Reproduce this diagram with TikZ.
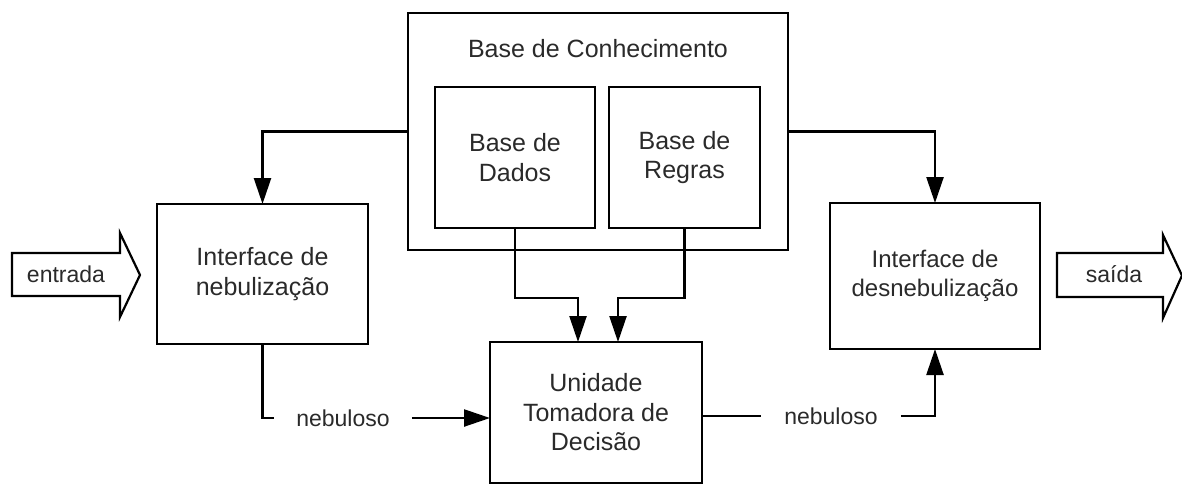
\documentclass[tikz,border=0pt]{standalone}
\usepackage{fontspec}
\setmainfont{Liberation Sans}
\usetikzlibrary{arrows.meta}
\definecolor{txt}{HTML}{2A2A2A}
\begin{document}
\begin{tikzpicture}[x=1pt,y=-1pt,
  box/.style={draw=black,line width=2.4pt,inner sep=0pt,outer sep=0pt,align=center,text=txt,
    font=\fontsize{25}{29.5}\selectfont},
  lbl/.style={text=txt,inner ysep=0pt,font=\fontsize{23}{27}\selectfont},
  wire/.style={draw=black,line width=2.4pt},
  arr/.style={wire,-{Triangle[length=26pt,width=17pt]}},
  fatarrow/.style={draw=black,line width=2.2pt,fill=white,line join=miter}]
\useasboundingbox (0,0) rectangle (1182,485);

% knowledge base
\node[box,minimum width=380pt,minimum height=237pt] (bc) at (598,131.5) {};
\node[text=txt,font=\fontsize{25}{29.5}\selectfont] (bctitle) at (598,49) {Base de Conhecimento};
\node[box,minimum width=160pt,minimum height=141pt] (dados) at (515,157.5) {Base de\\Dados};
\node[box,minimum width=151pt,minimum height=141pt] (regras) at (684.5,157.5) {Base de\\Regras};

% interfaces and decision unit
\node[box,minimum width=211pt,minimum height=140pt] (neb) at (262.5,274) {Interface de\\nebulização};
\node[box,minimum width=212pt,minimum height=141pt] (unid) at (596,412.5) {Unidade\\Tomadora de\\Decisão};
\node[box,minimum width=210pt,minimum height=146pt,font=\fontsize{24}{28.5}\selectfont] (desneb) at (935,276) {Interface de\\desnebulização};

% input / output block arrows
\draw[fatarrow] (12,253) -- (120,253) -- (120,233) -- (140,275) -- (120,317) -- (120,296) -- (12,296) -- cycle;
\node[lbl] (entrada) at (66,274) {entrada};
\draw[fatarrow] (1057,253) -- (1163,253) -- (1163,235) -- (1182,275.5) -- (1163,318) -- (1163,297) -- (1057,297) -- cycle;
\node[lbl] (saida) at (1114,274) {saída};

% nebuloso labels
\node[lbl,inner xsep=22pt] (nebL) at (343,418) {nebuloso};
\node[lbl,inner xsep=23pt] (nebR) at (831,416) {nebuloso};

% connectors
\draw[arr] (bc.west) -| (neb.north);
\draw[arr] (bc.east) -| (desneb.north);
\draw[arr] (dados.south) -- ++(0,70) -| ([xshift=-18pt]unid.north);
\draw[arr] (regras.south) -- ++(0,70) -| ([xshift=22pt]unid.north);
\draw[wire] (neb.south) |- (nebL.west);
\draw[arr] (nebL.east) -- (unid.west |- nebL.east);
\draw[wire] (unid.east |- nebR.west) -- (nebR.west);
\draw[arr] (nebR.east) -| (desneb.south);
\end{tikzpicture}
\end{document}
